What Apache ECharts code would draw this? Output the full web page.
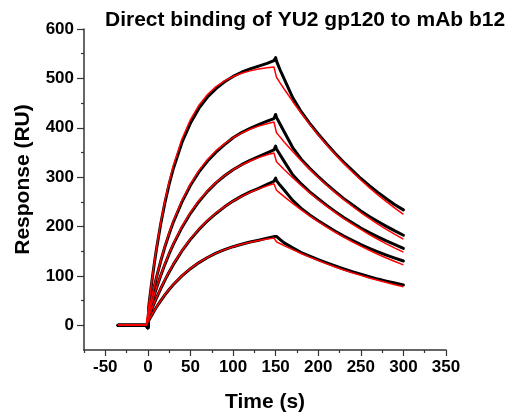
<!DOCTYPE html>
<html>
<head>
<meta charset="utf-8">
<script src="https://cdn.jsdelivr.net/npm/echarts@6/dist/echarts.min.js"></script>
<style>
html,body{margin:0;padding:0;background:#fff;}
#chart{width:513px;height:420px;}
</style>
</head>
<body>
<div id="chart"></div>
<script>
// Time points (s)
const tAssoc = [-35,-30,-20,-10,-2,0,1,2,4,6,8,10,15,20,25,30,40,50,60,70,80,90,100,110,120,130,140,148,150];
const tDiss = [150,151,155,160,170,180,190,200,210,220,230,240,250,260,270,280,290,300];

// Measured sensorgrams (black), association phase
const data1Assoc = [0,0,0,0,0,-5,37.9,52.4,80,106,130.5,153.6,204.6,248.4,285.9,318.1,370.2,409.5,439.7,462.3,479.3,493.1,503.9,512.4,519.2,524.8,530.4,536.1,542];
const data2Assoc = [0,0,0,0,0,-5,27,35.5,51.5,67,82,96.5,129.5,159,185.5,209.5,250.0,283.5,310.7,332.7,350.6,366.0,379.8,390.3,399.0,406.3,413.3,418.7,427];
const data3Assoc = [0,0,0,0,0,-5,22,28.5,40.5,52.5,64,75,100.5,123.5,145,164.5,198.2,226.8,250.8,271.2,288.4,302.8,315.0,325.2,333.8,341.6,349.3,355.1,363];
const data4Assoc = [0,0,0,0,0,-5,16.5,21,30,38.5,47,55,74,91.5,108,123.3,150.5,174,194.2,211.6,226.5,239.9,251.5,261.6,270.3,277.3,285.4,291.7,298];
const data5Assoc = [0,0,0,0,0,-5,9.5,13,19,25,31,36.5,49.5,61.5,72.5,82.5,100,114.7,127,137.3,146,153.2,159.2,164.1,168.6,172.4,176.6,179.6,183];

// Measured sensorgrams (black), dissociation phase
const data1Diss = [542,535,518,499,461,432.5,408.9,387.5,367.2,348.0,329.9,313.6,297.3,282.8,269.2,256.3,244.1,233.7];
const data2Diss = [427,421,408,392,360,336.4,317.8,301.2,285.5,270.6,256.5,244.1,231.4,220.4,210.1,200.3,191.1,182.4];
const data3Diss = [363,357,346,332,305,286.2,270.3,256.2,242.8,230.2,218.2,207.8,197.1,187.8,179.2,171.0,163.4,155.6];
const data4Diss = [298,293,284,274,253,236.9,223.6,211.9,200.9,190.4,180.5,172.2,163.3,155.9,148.9,142.3,136.1,130.3];
const data5Diss = [183,180,174,167,157,147.4,140.1,133.1,126.4,120.1,114.1,108.5,103.6,98.4,93.6,89.5,85.6,81.9];

// Fitted curves (red), association phase
const fit1Assoc = [0,0,0,0,0,0,39.9,54.4,82.0,108.0,132.5,155.6,207.6,252.4,290.9,324.1,377.2,416.5,445.7,467.3,483.3,495.1,503.9,510.4,515.2,518.8,521.4,523.1,523.4];
const fit2Assoc = [0,0,0,0,0,0,28.5,36.9,53.0,68.5,83.4,97.7,130.8,160.6,187.4,211.6,253.0,286.5,313.7,335.7,353.6,368.0,379.8,389.3,397.0,403.3,408.3,411.7,412.4];
const fit3Assoc = [0,0,0,0,0,0,23.4,29.6,41.8,53.6,64.9,75.8,101.5,124.9,146.4,166.0,200.2,228.8,252.8,272.7,289.4,303.3,315.0,324.7,332.8,339.6,345.3,349.1,350.0];
const fit4Assoc = [0,0,0,0,0,0,17.6,22.1,30.9,39.4,47.7,55.8,74.9,92.6,109.0,124.3,151.5,175.0,195.2,212.6,227.5,240.4,251.5,261.1,269.3,276.3,282.4,286.7,287.6];
const fit5Assoc = [0,0,0,0,0,0,10.2,13.5,19.7,25.7,31.4,37.0,50.1,62.1,73.1,83.1,100.6,115.2,127.4,137.6,146.1,153.2,159.2,164.1,168.3,171.7,174.6,176.6,177.0];

// Fitted curves (red), dissociation phase
const fit1Diss = [523.4,502.3,491.5,478.5,453.3,429.5,406.9,385.5,365.2,346.0,327.9,310.6,294.3,278.8,264.2,250.3,237.1,224.7];
const fit2Diss = [412.4,389.9,381.6,371.4,351.9,333.4,315.8,299.2,283.5,268.6,254.5,241.1,228.4,216.4,205.1,194.3,184.1,174.4];
const fit3Diss = [350.0,331.2,324.1,315.5,298.9,283.2,268.3,254.2,240.8,228.2,216.2,204.8,194.1,183.8,174.2,165.0,156.4,148.1];
const fit4Diss = [287.6,273.5,267.7,260.5,246.8,233.9,221.6,209.9,198.9,188.4,178.5,169.2,160.3,151.9,143.9,136.3,129.1,122.3];
const fit5Diss = [177.0,169.1,165.6,161.4,153.2,145.4,138.1,131.1,124.4,118.1,112.1,106.5,101.1,95.9,91.1,86.5,82.1,77.9];

// Axis ticks
const xMajorTicks = [-50,0,50,100,150,200,250,300,350];
const xMinorTicks = [-75,-25,25,75,125,175,225,275,325];
const yMajorTicks = [0,100,200,300,400,500,600];
const yMinorTicks = [50,150,250,350,450,550];

const titleText = 'Direct binding of YU2 gp120 to mAb b12';
const xName = 'Time (s)';
const yName = 'Response (RU)';

function build(tA, vA, tD, vD) {
  const out = [];
  for (let i = 0; i < tA.length; i++) out.push([tA[i], vA[i]]);
  for (let i = 1; i < tD.length; i++) out.push([tD[i], vD[i]]);
  return out;
}

const measured = [
  [data1Assoc, data1Diss],[data2Assoc, data2Diss],[data3Assoc, data3Diss],
  [data4Assoc, data4Diss],[data5Assoc, data5Diss]
];
const fits = [
  [fit1Assoc, fit1Diss],[fit2Assoc, fit2Diss],[fit3Assoc, fit3Diss],
  [fit4Assoc, fit4Diss],[fit5Assoc, fit5Diss]
];

const series = [];
measured.forEach(function (m) {
  series.push({
    type: 'line', xAxisIndex: 0, yAxisIndex: 0, symbol: 'none', z: 2,
    lineStyle: { color: '#000000', width: 3, join: 'round', cap: 'round' },
    data: build(tAssoc, m[0], tDiss, m[1])
  });
});
fits.forEach(function (f) {
  series.push({
    type: 'line', xAxisIndex: 0, yAxisIndex: 0, symbol: 'none', z: 3,
    lineStyle: { color: '#ff0000', width: 1.5 },
    data: build(tAssoc, f[0], tDiss, f[1])
  });
});

const fontFam = '"Liberation Sans", Arial, Helvetica, sans-serif';
const axisCol = '#333333';

const chart = echarts.init(document.getElementById('chart'), null, { renderer: 'canvas' });
chart.setOption({
  animation: false,
  backgroundColor: '#ffffff',
  title: {
    text: titleText, left: 100, top: 5,
    textStyle: { fontFamily: fontFam, fontWeight: 'bold', fontSize: 21, color: '#000' }
  },
  grid: { left: 84, right: 67, top: 29, bottom: 70, containLabel: false },
  xAxis: [{
    type: 'value', min: -75, max: 350,
    name: xName, nameLocation: 'middle', nameGap: 42,
    nameTextStyle: { fontFamily: fontFam, fontWeight: 'bold', fontSize: 21, color: '#000' },
    axisLine: { onZero: false, lineStyle: { color: axisCol, width: 1.5 } },
    axisTick: { show: true, length: 6, customValues: xMajorTicks, lineStyle: { color: axisCol, width: 1.2 } },
    axisLabel: { customValues: xMajorTicks, margin: 9, fontFamily: fontFam, fontWeight: 'bold', fontSize: 17, color: '#000' },
    splitLine: { show: false }
  }, {
    type: 'value', min: -75, max: 350, position: 'bottom',
    axisLine: { show: false, onZero: false },
    axisTick: { show: true, length: 3, customValues: xMinorTicks, lineStyle: { color: axisCol, width: 1.2 } },
    axisLabel: { show: false }, splitLine: { show: false }
  }],
  yAxis: [{
    type: 'value', min: -50, max: 600,
    name: yName, nameLocation: 'middle', nameGap: 50, nameRotate: 90,
    nameTextStyle: { fontFamily: fontFam, fontWeight: 'bold', fontSize: 21, color: '#000', padding: [0, 0, 0, 20] },
    axisLine: { show: true, onZero: false, lineStyle: { color: axisCol, width: 1.5 } },
    axisTick: { show: true, length: 7, customValues: yMajorTicks, lineStyle: { color: axisCol, width: 1.2 } },
    axisLabel: { customValues: yMajorTicks, margin: 10, fontFamily: fontFam, fontWeight: 'bold', fontSize: 17, color: '#000' },
    splitLine: { show: false }
  }, {
    type: 'value', min: -50, max: 600, position: 'left',
    axisLine: { show: false, onZero: false },
    axisTick: { show: true, length: 3, customValues: yMinorTicks, lineStyle: { color: axisCol, width: 1.2 } },
    axisLabel: { show: false }, splitLine: { show: false }
  }],
  series: series
});
</script>
</body>
</html>
